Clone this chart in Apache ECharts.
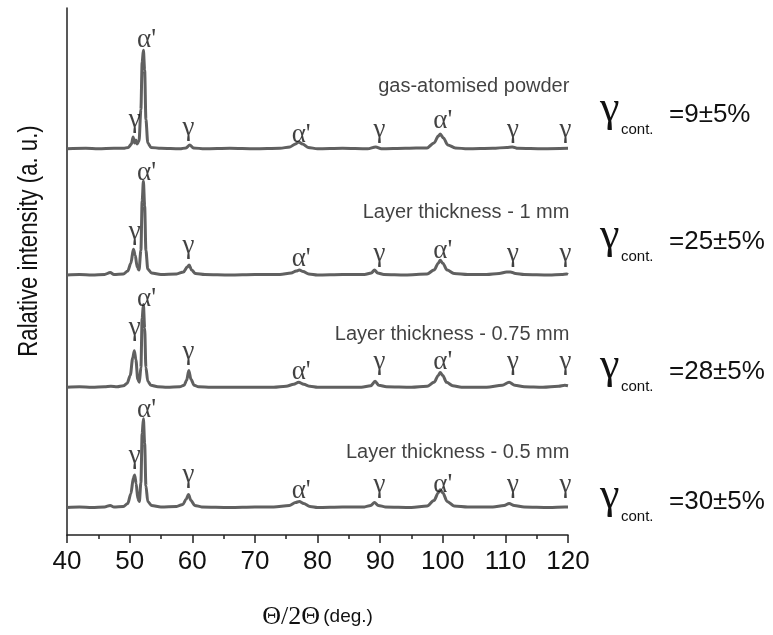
<!DOCTYPE html>
<html>
<head>
<meta charset="utf-8">
<script src="https://cdn.jsdelivr.net/npm/echarts@6/dist/echarts.min.js"></script>
<style>
html, body { margin: 0; padding: 0; background: #fff; }
#chart { width: 773px; height: 635px; }
</style>
</head>
<body>
<div id="chart"></div>
<script>
// XRD patterns, 2theta (deg) vs intensity above each pattern's own baseline (a. u.)
var gasPowder = [[40,0],[43,0.5],[45,0],[47.5,0.5],[49,0.5],[49.8,1.5],[50.3,5],[50.55,12],[50.8,6],[51.0,9],[51.2,5],[51.5,8],[51.8,40],[52.0,88],[52.2,100],[52.4,80],[52.6,30],[52.9,6],[53.4,1.5],[55,0.5],[58,0],[59.0,1],[59.6,4],[60.2,1],[62,0],[66,0.5],[70,0],[74,0.5],[75.6,2],[76.5,5],[77,7],[77.6,5],[78.5,1.5],[80,0],[84,0.5],[88,0],[89.3,2],[90.2,0],[94,0.5],[97.5,1],[98.6,6],[99.3,13],[99.6,15],[100.1,11],[100.8,4],[102,1],[104,0],[108,0.5],[110.2,1.5],[111.1,2],[112,0.5],[116,0],[120,0.5]];
var layer1mm = [[40,0],[42,0.5],[44,0],[46,0.5],[46.9,2.5],[47.5,0.5],[49,1],[49.7,4],[50.2,12],[50.6,26],[50.9,20],[51.2,8],[51.5,5],[51.8,25],[52.0,75],[52.2,95],[52.4,70],[52.6,25],[52.9,6],[53.5,2],[55,0.5],[57.5,1],[58.6,3],[59.2,8],[59.5,10],[59.9,5],[60.5,1.5],[62,0.5],[66,0],[70,0.5],[74,0.5],[75.8,2],[76.6,4],[77.1,5],[77.7,3.5],[78.6,1],[80,0],[84,0.5],[87.5,0.5],[88.6,2],[89.1,5],[89.6,2],[90.6,0.5],[94,0],[97.5,1],[98.6,5],[99.3,12],[99.6,15],[100,12],[100.7,5],[101.8,1.5],[104,0.5],[107,0.5],[109,1.5],[110.2,3],[110.8,3],[111.6,1.5],[113,0.5],[117,0],[119,0.5],[119.8,1],[120,0.5]];
var layer075mm = [[40,0],[42,0.5],[44,0],[46,0.5],[47,1],[48,0.5],[49,1.5],[49.6,4],[50.1,12],[50.5,30],[50.75,37],[51.0,28],[51.3,8],[51.55,5],[51.8,20],[52.0,70],[52.2,84],[52.4,60],[52.6,20],[52.9,6],[53.4,2],[54.5,0.5],[56,0],[58,0.5],[58.7,2],[59.1,7],[59.45,17],[59.8,8],[60.3,2],[61,0.5],[63,0],[66,0],[70,0],[73,0],[75,1],[76.2,3],[77,5],[77.8,3],[78.8,1],[80,0],[84,0],[87,0],[88.5,1.5],[89.2,6],[89.8,2],[91,0.5],[95,0],[97.5,1],[98.6,5],[99.3,12],[99.6,15],[100.0,12],[100.6,5],[101.6,1.5],[103,0],[107,0],[109.5,2],[110.6,5],[111.5,2],[113,0.5],[116,0],[118.5,1],[119.5,2],[120,1.5]];
var layer05mm = [[40,0],[42,0.5],[44,0],[46,0.5],[46.9,2],[47.5,0.5],[49,1],[49.7,4],[50.2,14],[50.6,30],[50.8,33],[51.05,24],[51.3,9],[51.55,6],[51.8,25],[52.0,75],[52.2,90],[52.4,65],[52.6,22],[52.9,6],[53.5,2],[55,0.5],[57.5,1],[58.5,3],[59.0,8],[59.4,13],[59.8,7],[60.4,2],[61.5,0.5],[66,0],[70,0.5],[73,0.5],[75.5,2],[76.5,5],[77.1,6],[77.8,4],[78.8,1],[80,0],[84,0.5],[87.5,0.5],[88.5,2],[89.1,5],[89.7,2],[90.8,0.5],[95,0],[97.5,1.5],[98.6,7],[99.3,15],[99.6,18],[100,15],[100.7,6],[101.8,1.5],[104,0.5],[108,0.5],[109.8,2],[110.6,4],[111.4,2],[113,0.5],[117,0],[119.5,0.5],[120,0.5]];

var patterns = [gasPowder, layer1mm, layer075mm, layer05mm];
var sampleNames = ['gas-atomised powder', 'Layer thickness - 1 mm', 'Layer thickness - 0.75 mm', 'Layer thickness - 0.5 mm'];
var gammaContent = ['9', '25', '28', '30'];
var offsets = [392, 264, 150, 28];   // vertical stacking of the patterns
var nameLift = [63, 63, 54, 56];

// phase labels over the peaks
var peakX = [50.8, 52.7, 59.4, 77.4, 89.9, 100.0, 111.2, 119.6];
var peakText = ['γ', "α'", 'γ', "α'", 'γ', "α'", 'γ', 'γ'];
var peakLift = [
    [29, 111, 21, 14, 19, 28, 19, 19],
    [44, 104, 29, 16, 21, 24, 21, 21],
    [60, 90, 36, 16, 26, 26, 26, 26],
    [52, 99, 33, 17, 23, 23, 23, 23]
];

var xTicks = [40, 50, 60, 70, 80, 90, 100, 110, 120];

var chart = echarts.init(document.getElementById('chart'));
var sans = 'Liberation Sans, Arial, sans-serif';
var serif = 'Liberation Serif, Times New Roman, serif';

var series = [];
patterns.forEach(function(p, i) {
    series.push({
        type: 'line',
        data: p.map(function(d) { return [d[0], d[1] + offsets[i]]; }),
        showSymbol: false,
        smooth: 0.3,
        smoothMonotone: 'x',
        lineStyle: { color: '#606060', width: 3, join: 'round' },
        silent: true,
        z: 2
    });
    var lab = [];
    for (var k = 0; k < peakX.length; k++) {
        lab.push({ value: [peakX[k], offsets[i] + peakLift[i][k]], name: peakText[k] });
    }
    series.push({
        type: 'scatter',
        data: lab,
        symbolSize: 1,
        itemStyle: { color: 'rgba(0,0,0,0)' },
        clip: false,
        silent: true,
        label: {
            show: true,
            position: 'inside',
            formatter: '{b}',
            color: '#111',
            fontFamily: serif,
            fontSize: 27
        },
        z: 3
    });
    series.push({
        type: 'scatter',
        data: [{ value: [120.3, offsets[i] + nameLift[i]], name: sampleNames[i] }],
        symbolSize: 1,
        itemStyle: { color: 'rgba(0,0,0,0)' },
        clip: false,
        silent: true,
        label: {
            show: true,
            position: 'left',
            distance: 0,
            formatter: '{b}',
            color: '#111',
            fontFamily: sans,
            fontSize: 20
        },
        z: 3
    });
});

// y title is a condensed face in the original: squeeze along the text direction
var rowY = [115, 242, 372, 502];
var graphics = [{
    type: 'text',
    x: 30, y: 241,
    rotation: Math.PI / 2,
    scaleX: 0.82,
    style: {
        text: 'Ralative intensity (a. u.)',
        fill: '#111',
        font: '27px ' + sans,
        align: 'center',
        verticalAlign: 'middle'
    }
}];
gammaContent.forEach(function(g, i) {
    graphics.push({
        type: 'text', x: 600, y: rowY[i] - 6,
        style: { text: 'γ', fill: '#111', font: '44px ' + serif, align: 'left', verticalAlign: 'middle' }
    });
    graphics.push({
        type: 'text', x: 621, y: rowY[i] + 15,
        style: { text: 'cont.', fill: '#111', font: '15px ' + sans, align: 'left', verticalAlign: 'middle' }
    });
    graphics.push({
        type: 'text', x: 669, y: rowY[i],
        style: { text: '=' + g + '±5%', fill: '#111', font: '26px ' + sans, align: 'left', verticalAlign: 'middle' }
    });
});

var option = {
    backgroundColor: '#fff',
    animation: false,
    grid: { left: 67, right: 205, top: 8, bottom: 92 },
    xAxis: {
        type: 'value',
        min: xTicks[0],
        max: xTicks[xTicks.length - 1],
        interval: 10,
        name: '{t|Θ/2Θ} {d|(deg.)}',
        nameLocation: 'middle',
        nameGap: 69,
        nameTextStyle: {
            rich: {
                t: { fontFamily: serif, fontSize: 26, color: '#111' },
                d: { fontFamily: sans, fontSize: 19, color: '#111' }
            }
        },
        axisLine: { lineStyle: { color: '#222', width: 1.5 } },
        axisTick: { inside: false, length: 8, lineStyle: { color: '#222', width: 1.5 } },
        minorTick: { show: true, splitNumber: 2, length: 4, lineStyle: { color: '#222', width: 1.5 } },
        axisLabel: { color: '#111', fontFamily: sans, fontSize: 26, margin: 14 },
        splitLine: { show: false }
    },
    yAxis: {
        type: 'value',
        min: 0,
        max: 535,
        axisLine: { show: true, lineStyle: { color: '#222', width: 1.5 } },
        axisTick: { show: false },
        axisLabel: { show: false },
        splitLine: { show: false }
    },
    series: series,
    graphic: graphics
};
chart.setOption(option);
</script>
</body>
</html>
